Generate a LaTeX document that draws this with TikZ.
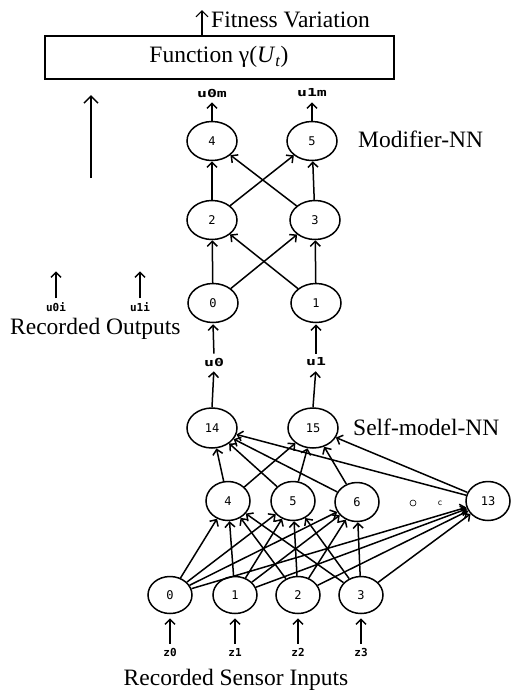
\documentclass[tikz,border=0pt]{standalone}
\usepackage{fontspec}
\setmainfont{Liberation Serif}
\newfontfamily\netfont{DejaVu Sans Mono}
\usepackage{graphicx}
\usepackage{tikz}
\usetikzlibrary{positioning, arrows.meta, calc, shapes.geometric}
\usepackage{xcolor}
\definecolor{netInk}{HTML}{000000}
\newcommand{\widesig}[1]{\scalebox{1.5}[1]{#1}}

\begin{document}
\begin{tikzpicture}[x=1pt, y=-1pt, font=\fontsize{23.5}{26}\selectfont,
            neuron/.style={
              ellipse, draw=netInk, line width=1.5pt,
              minimum width=46pt, minimum height=39pt, inner sep=0pt,
              font=\netfont\fontsize{12}{14}\selectfont
            },
            sig/.style={font=\netfont\bfseries\fontsize{11}{13}\selectfont, inner sep=1pt},
            wire/.style={draw=netInk, line width=1.5pt,
              -{Straight Barb[length=5pt, width=10pt, line width=1.5pt]}},
            feed/.style={wire, shorten <=3pt, shorten >=4pt}
          ]
          \useasboundingbox (0,0) rectangle (512,694);

          % Bloque de la funcion de fitness
          \node[draw, line width=1.5pt, minimum width=349pt, minimum height=43pt,
            anchor=north west, inner sep=0pt] (fn) at (44,35) {};
          \node at (219,57) {Function γ(\textit{U}\textsubscript{\textit{t}})};
          \coordinate (fitfoot) at (202,35);
          \coordinate (fittip) at (202,10);
          \draw[wire, -{Straight Barb[length=6pt, width=12pt, line width=1.1pt]}, line width=1.1pt]
            (fitfoot) -- (fittip);
          \node[anchor=west, inner sep=0pt] (fitlbl) at (211,20) {Fitness Variation};

          % Salidas grabadas hacia la funcion
          \coordinate (recbase) at (91,178);
          \coordinate (rectip) at (91,95);
          \draw[wire, -{Straight Barb[length=7pt, width=14pt, line width=1.5pt]}]
            (recbase) -- (rectip);
          \node[sig] (u0i) at (56,307) {u0i};
          \node[sig] (u1i) at (140,307) {u1i};
          \draw[feed] (u0i.north) -- ++(0,-34);
          \draw[feed] (u1i.north) -- ++(0,-34);
          \node[anchor=west, inner sep=0pt] (recout) at (10,329) {Recorded Outputs};

          % Modifier-NN
          \node[neuron, minimum width=50pt] (m0) at (213,303) {0};
          \node[neuron, minimum width=50pt] (m1) at (316,303) {1};
          \node[neuron, minimum width=50pt] (m2) at (212,220) {2};
          \node[neuron, minimum width=50pt] (m3) at (315,220) {3};
          \node[neuron, minimum width=50pt] (m4) at (212,141) {4};
          \node[neuron, minimum width=50pt] (m5) at (312,141) {5};
          \node[anchor=west, inner sep=0pt] (modlbl) at (358,139) {Modifier-NN};
          \node[sig] (u0m) at (212,93) {\widesig{u0m}};
          \node[sig] (u1m) at (312,93) {\widesig{u1m}};
          \foreach \a/\b in {m0/m2, m0/m3, m1/m2, m1/m3, m2/m4, m2/m5, m3/m4, m3/m5}
            \draw[wire] (\a) -- (\b);
          \draw[feed, shorten <=0pt] (m4.north) -- (u0m.south);
          \draw[feed, shorten <=0pt] (m5.north) -- (u1m.south);

          % Enlace entre las dos redes
          \node[sig] (u0) at (214,362) {\widesig{u0}};
          \node[sig] (u1) at (316,362) {\widesig{u1}};
          \draw[feed, shorten >=1pt] (u0.north) -- (m0.south);
          \draw[feed, shorten >=1pt] (u1.north) -- (m1.south);

          % Self-model-NN
          \node[neuron, minimum width=50pt, minimum height=40pt] (s14) at (212,428) {14};
          \node[neuron, minimum width=50pt, minimum height=40pt] (s15) at (313,428) {15};
          \node[anchor=west, inner sep=0pt] (selflbl) at (353,427) {Self-model-NN};
          \node[neuron, minimum width=44pt] (s4) at (228,501) {4};
          \node[neuron, minimum width=44pt] (s5) at (293,501) {5};
          \node[neuron, minimum width=44pt] (s6) at (357,502) {6};
          \node[neuron, minimum width=44pt] (s13) at (488,501) {13};
          \node[circle, draw, line width=0.6pt, minimum size=6pt, inner sep=0pt] (dot1) at (413,503) {};
          \node[font=\netfont\fontsize{8}{9}\selectfont] (dot2) at (440,503) {c};
          \draw[feed, shorten <=0pt] (s14.north) -- (u0.south);
          \draw[feed, shorten <=0pt] (s15.north) -- (u1.south);
          \foreach \h in {s4, s5, s6, s13}
            \foreach \o in {s14, s15}
              \draw[wire] (\h) -- (\o);

          % Entradas de sensores
          \node[neuron, minimum width=44pt, minimum height=37pt] (i0) at (170,595) {0};
          \node[neuron, minimum width=44pt, minimum height=37pt] (i1) at (235,595) {1};
          \node[neuron, minimum width=44pt, minimum height=37pt] (i2) at (298,595) {2};
          \node[neuron, minimum width=44pt, minimum height=37pt] (i3) at (361,595) {3};
          \foreach \i in {i0, i1, i2, i3}
            \foreach \h in {s4, s5, s6, s13}
              \draw[wire] (\i) -- (\h);
          \foreach \k/\x in {0/170, 1/235, 2/298, 3/361} {
            \node[sig] (z\k) at (\x,652) {z\k};
            \draw[feed] (z\k.north) -- (i\k.south);
          }
          \node (sensin) at (236,680) {Recorded Sensor Inputs};
        \end{tikzpicture}
\end{document}
